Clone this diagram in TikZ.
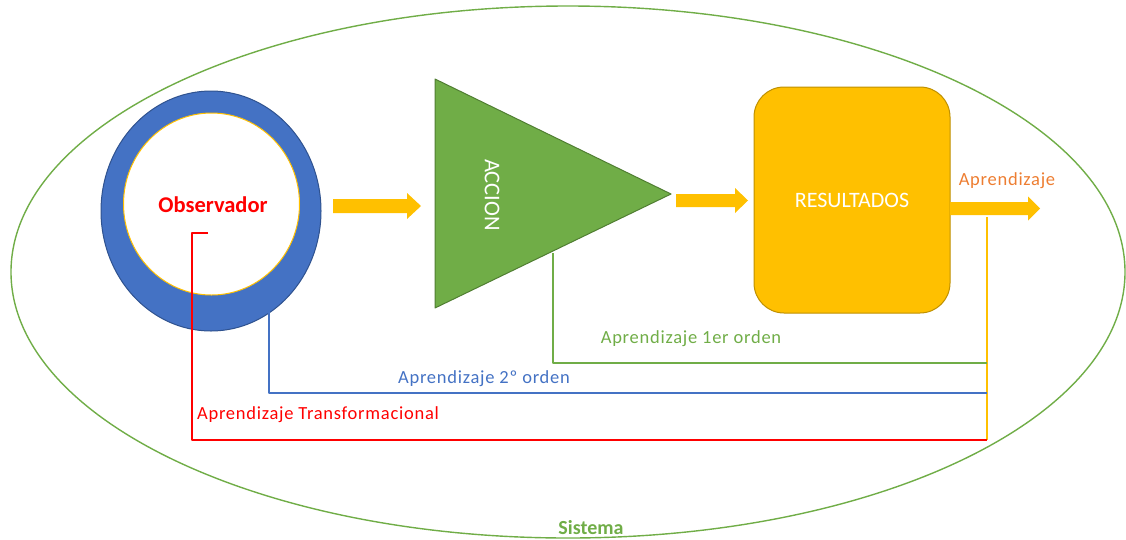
\documentclass[tikz,border=0pt]{standalone}
\usepackage{fontspec}
\setmainfont{Carlito}
\newfontfamily\lblfont[LetterSpace=4]{Carlito}
\definecolor{verde}{HTML}{70AD47}
\definecolor{verdeosc}{HTML}{507E32}
\definecolor{azul}{HTML}{4472C4}
\definecolor{azulosc}{HTML}{2F528F}
\definecolor{amarillo}{HTML}{FFC000}
\definecolor{amarilloosc}{HTML}{BF9000}
\definecolor{naranja}{HTML}{ED7D31}
\definecolor{rojo}{HTML}{FF0000}
\tikzset{
  lbl/.style={font=\lblfont\fontsize{18.5}{21}\selectfont,inner sep=0pt},
  lazo/.style={line width=1.4pt},
  flecha/.style={fill=amarillo,draw=none}
}
% block arrow: x start, x end, y centre, half body, half head, head length
\newcommand{\blockarrow}[6]{%
  \path[flecha] (#1,#3-#4)--(#2-#6,#3-#4)--(#2-#6,#3-#5)--(#2,#3)
    --(#2-#6,#3+#5)--(#2-#6,#3+#4)--(#1,#3+#4)--cycle;}
\begin{document}
\begin{tikzpicture}[x=1pt,y=-1pt,line join=round]
\useasboundingbox (0,0) rectangle (1126,539);
% sistema
\draw[verde,line width=1.4pt] (568,272) ellipse [x radius=557,y radius=266];
\node[font=\bfseries\fontsize{20}{22}\selectfont,text=verde,inner sep=0pt] (sistema) at (591,528) {Sistema};
% observador
\draw[azulosc,fill=azul,line width=1pt] (211,211) ellipse [x radius=110,y radius=120];
\draw[amarillo,fill=white,line width=1pt] (211.5,204) ellipse [x radius=88,y radius=91];
\node[font=\bfseries\fontsize{22.5}{25}\selectfont,text=rojo,inner sep=0pt] (obs) at (213,205) {Observador};
\blockarrow{333}{421}{206}{7}{13}{14}
% accion
\coordinate (t1) at (435,79);
\coordinate (t2) at (435,308);
\coordinate (t3) at (671,194);
\draw[verdeosc,fill=verde,line width=1pt] (t1)--(t3)--(t2)--cycle;
\node[rotate=-90,text=white,font=\fontsize{22.5}{25}\selectfont,inner sep=0pt] (accion) at (492,195) {ACCION};
\blockarrow{676}{748}{200.5}{6.5}{12.5}{13}
% resultados
\node[draw=amarilloosc,fill=amarillo,line width=1pt,rounded corners=30pt,
  minimum width=196pt,minimum height=226pt,text=white,
  font=\fontsize{22}{24}\selectfont] (res) at (852,200) {RESULTADOS};
\blockarrow{950}{1040}{208.5}{6.5}{12}{12}
\node[text=naranja,font=\lblfont\fontsize{18.5}{21}\selectfont,inner sep=0pt] (apr) at (1007,181) {Aprendizaje};
% lazos de aprendizaje
\coordinate (sal) at (987,217);
\coordinate (fin) at (987,440);
\draw[amarillo,lazo] (sal)--(fin);
\coordinate (a1) at (553,253);
\coordinate (a2) at (269,311);
\coordinate (a3) at (208,233);
\draw[verde,lazo] (a1)--(553,363)--(987,363);
\draw[azul,lazo] (a2)--(269,393)--(987,393);
\draw[rojo,lazo] (a3)--(192,233)--(192,440)--(fin);
\node[lbl,text=verde] (l1) at (691,339) {Aprendizaje 1er orden};
\node[lbl,text=azul] (l2) at (484,379) {Aprendizaje 2º orden};
\node[lbl,text=rojo] (l3) at (318,415) {Aprendizaje Transformacional};
\end{tikzpicture}
\end{document}
